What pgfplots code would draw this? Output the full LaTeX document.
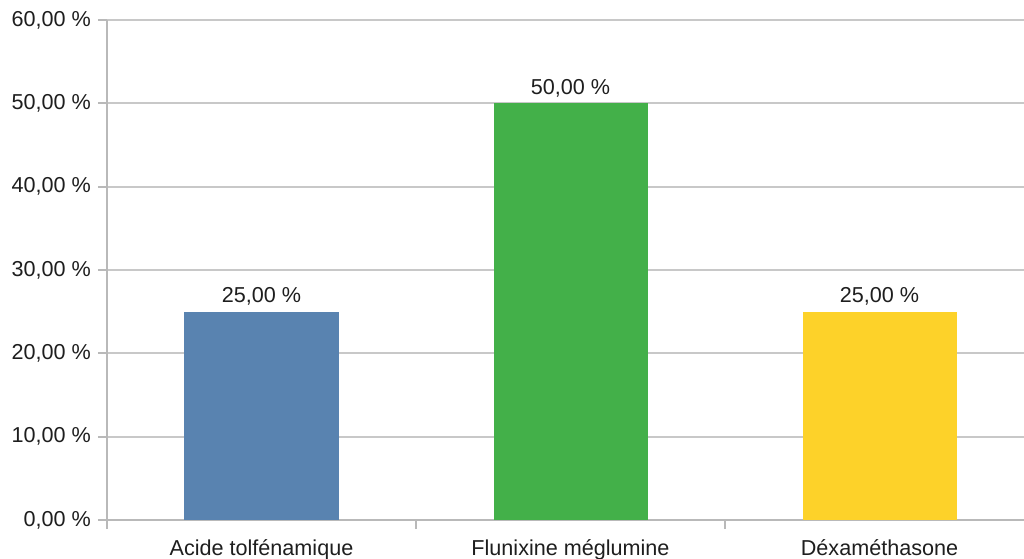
\documentclass[border=0pt]{standalone}
\usepackage{pgfplots}
\pgfplotsset{compat=1.18}
\usepackage{fontspec}
\setmainfont{Liberation Sans}
\definecolor{cblue}{RGB}{89,131,176}
\definecolor{cgreen}{RGB}{67,176,73}
\definecolor{cyellow}{RGB}{253,210,41}
\definecolor{cgrid}{RGB}{200,200,200}
\definecolor{caxis}{RGB}{185,185,185}
\definecolor{ctext}{RGB}{30,30,30}
\begin{document}
\begin{tikzpicture}
\clip (0,0) rectangle (512pt,279pt);
\begin{axis}[
  at={(53.5pt,19pt)}, anchor=south west,
  width=463.5pt, height=250pt, scale only axis,
  xmin=-0.5, xmax=2.5, ymin=0, ymax=60,
  axis x line*=bottom, axis y line*=left,
  axis line style={caxis, line width=0.9pt},
  /pgf/number format/assume math mode=true,
  every tick label/.append style={font=\fontsize{10.8pt}{13pt}\selectfont, text=ctext},
  ytick={0,10,...,60},
  yticklabel={\pgfmathprintnumber[fixed,fixed zerofill,precision=2,use comma]{\tick}~\%},
  ymajorgrids, major grid style={cgrid, line width=0.9pt},
  tick align=outside, major tick length=4.5pt,
  tick style={caxis, line width=0.9pt},
  xtick={-0.5,0.5,1.5,2.5}, xticklabels={},
  extra x ticks={0,1,2},
  extra x tick labels={Acide tolfénamique, Flunixine méglumine, Déxaméthasone},
  extra x tick style={major tick length=0pt, xticklabel style={yshift=-6.5pt}},
  ybar, bar width=77pt, bar shift=0pt,
  nodes near coords={\pgfmathprintnumber[fixed,fixed zerofill,precision=2,use comma]{\pgfplotspointmeta}~\%},
  nodes near coords style={font=\fontsize{10.8pt}{13pt}\selectfont, text=ctext, anchor=base, yshift=4.5pt},
]
\addplot[fill=cblue, draw=none] coordinates {(0,25)};
\addplot[fill=cgreen, draw=none] coordinates {(1,50)};
\addplot[fill=cyellow, draw=none] coordinates {(2,25)};
\end{axis}
\end{tikzpicture}
\end{document}
